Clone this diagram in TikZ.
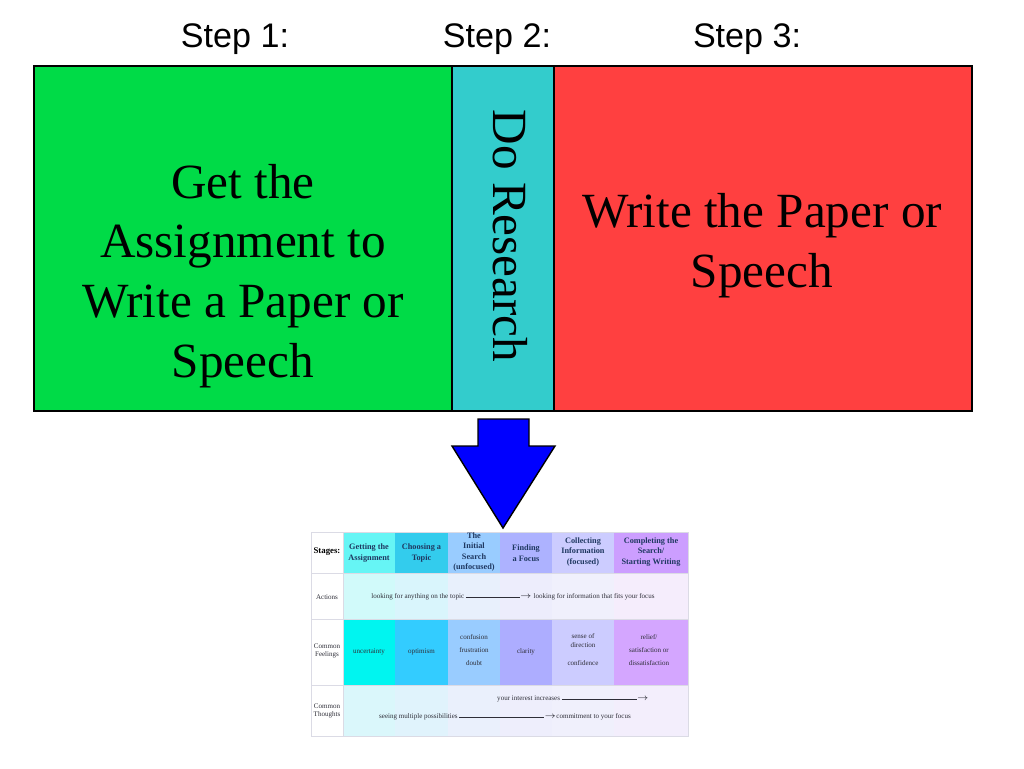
\documentclass[tikz,border=0pt]{standalone}
\usepackage{fontspec}
\setmainfont{Liberation Serif}
\newfontfamily\stepfont{Liberation Sans}
\definecolor{StepOneClr}{rgb}{0,0.86,0.28}
\definecolor{StepTwoClr}{rgb}{0.2,0.8,0.8}
\definecolor{StepThreeClr}{rgb}{1,0.25,0.25}
\definecolor{ArrowClr}{rgb}{0,0,1}
\definecolor{HeadTxtClr}{rgb}{0.12,0.22,0.38}
\definecolor{BodyTxtClr}{rgb}{0.18,0.18,0.22}
\definecolor{GridClr}{rgb}{0.86,0.86,0.9}
\definecolor{HeadA}{rgb}{0.4,0.96,0.96}
\definecolor{HeadB}{rgb}{0.2,0.8,0.93}
\definecolor{HeadC}{rgb}{0.6,0.8,1}
\definecolor{HeadD}{rgb}{0.68,0.7,1}
\definecolor{HeadE}{rgb}{0.8,0.8,1}
\definecolor{HeadF}{rgb}{0.8,0.62,1}
\definecolor{FeelA}{rgb}{0,0.96,0.94}
\definecolor{FeelB}{rgb}{0.2,0.8,1}
\definecolor{FeelC}{rgb}{0.6,0.8,1}
\definecolor{FeelD}{rgb}{0.68,0.68,1}
\definecolor{FeelE}{rgb}{0.8,0.8,1}
\definecolor{FeelF}{rgb}{0.83,0.65,1}
\definecolor{PaleA}{rgb}{0.82,0.98,0.98}
\definecolor{PaleB}{rgb}{0.85,0.96,0.99}
\definecolor{PaleC}{rgb}{0.91,0.94,0.99}
\definecolor{PaleD}{rgb}{0.93,0.93,0.99}
\definecolor{PaleE}{rgb}{0.94,0.94,0.99}
\definecolor{PaleF}{rgb}{0.96,0.93,0.99}

\begin{document}
\begin{tikzpicture}[x=0.02cm,y=-0.02cm,
  steplbl/.style={font=\stepfont\fontsize{19.4}{23}\selectfont,anchor=base},
  bigtxt/.style={font=\fontsize{28}{34}\selectfont,align=center,inner sep=0pt},
  headtxt/.style={font=\fontsize{4.7}{6}\selectfont\bfseries,text=HeadTxtClr,align=center,inner sep=0pt},
  celltxt/.style={font=\fontsize{4}{7.4}\selectfont,text=BodyTxtClr,align=center,inner sep=0pt},
  rowlbl/.style={font=\fontsize{4}{4.8}\selectfont,text=BodyTxtClr,align=center,inner sep=0pt}]
\useasboundingbox (0,0) rectangle (1024,768);

\node[steplbl] (stepone) at (235,47) {Step 1:};
\node[steplbl] (steptwo) at (497,47) {Step 2:};
\node[steplbl] (stepthree) at (747,47) {Step 3:};

\draw[fill=StepOneClr,line width=0.8pt] (34,66) rectangle (452,411);
\draw[fill=StepTwoClr,line width=0.8pt] (452,66) rectangle (554,411);
\draw[fill=StepThreeClr,line width=0.8pt] (554,66) rectangle (972,411);

\node[bigtxt] (assign) at (243,276) {Get the\\Assignment to\\Write a Paper or\\Speech};
\node[bigtxt,rotate=-90] (research) at (510,236) {Do Research};
\node[bigtxt] (write) at (762,246) {Write the Paper or\\Speech};

\draw[fill=ArrowClr,line width=0.8pt] (478,419) -- (529,419) -- (529,446) -- (555,446)
  -- (503,528) -- (452,446) -- (478,446) -- cycle;

% stages table
\foreach \xa/\xb/\cl in {343/395/A,395/448/B,448/500/C,500/552/D,552/614/E,614/688/F}{
  \fill[Head\cl] (\xa,532) rectangle (\xb,573);
  \fill[Pale\cl] (\xa,573) rectangle (\xb,619);
  \fill[Feel\cl] (\xa,619) rectangle (\xb,685);
  \fill[Pale\cl!70!PaleE] (\xa,685) rectangle (\xb,736);
}
\draw[GridClr,line width=0.4pt] (311,532) rectangle (688,736);
\draw[GridClr,line width=0.4pt] (311,573) -- (688,573) (311,619) -- (688,619)
  (311,685) -- (688,685) (343,532) -- (343,736);

\node[headtxt,text=black,font=\fontsize{5}{6}\selectfont\bfseries] (stages) at (327,552) {Stages:};
\node[headtxt] (getting) at (369,553) {Getting the\\Assignment};
\node[headtxt] (choosing) at (421.5,553) {Choosing a\\Topic};
\node[headtxt] (initial) at (474,552) {The\\Initial\\Search\\(unfocused)};
\node[headtxt] (finding) at (526,553) {Finding\\a Focus};
\node[headtxt] (collecting) at (583,552) {Collecting\\Information\\(focused)};
\node[headtxt] (completing) at (651,552) {Completing the\\Search/\\Starting Writing};

\node[rowlbl] (actions) at (327,597) {Actions};
\node[celltxt] (looking) at (513,597) {looking for anything on the topic
  \rule[0.5ex]{1.08cm}{0.25pt}$\rightarrow$ looking for information that fits your focus};

\node[rowlbl] (feelings) at (327,651) {Common\\Feelings};
\node[celltxt] (uncert) at (369,652) {uncertainty};
\node[celltxt] (optim) at (421.5,652) {optimism};
\node[celltxt] (confus) at (474,650) {confusion\\frustration\\doubt};
\node[celltxt] (clarity) at (526,652) {clarity};
\node[celltxt] (sense) at (583,650) {sense of\\[-2.4pt]direction\\[3pt]confidence};
\node[celltxt] (relief) at (649,650) {relief/\\satisfaction or\\dissatisfaction};

\node[rowlbl] (thoughts) at (327,711) {Common\\Thoughts};
\node[celltxt] (interest) at (573,699) {your interest increases \rule[0.5ex]{1.5cm}{0.25pt}$\rightarrow$};
\node[celltxt] (possib) at (505,717) {seeing multiple possibilities
  \rule[0.5ex]{1.7cm}{0.25pt}$\rightarrow$commitment to your focus};
\end{tikzpicture}
\end{document}
